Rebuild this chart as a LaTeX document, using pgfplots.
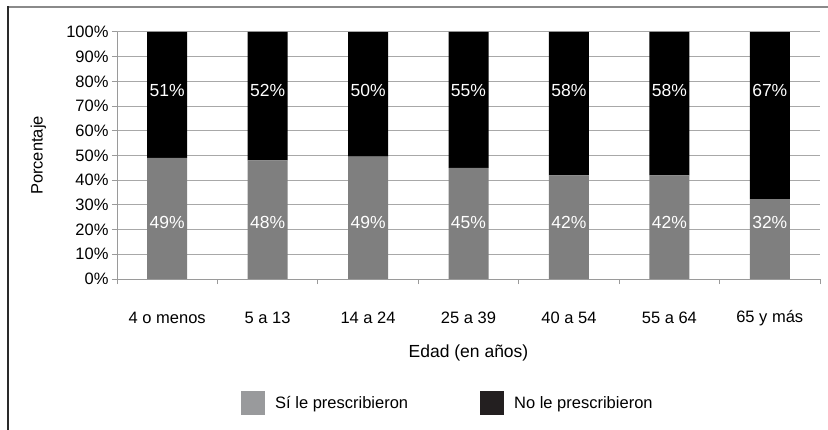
\documentclass[border=0pt]{standalone}
\usepackage{pgfplots}
\pgfplotsset{compat=1.18}
\usepackage{pgfplotstable}
\usepackage{fontspec}
\setmainfont{Liberation Sans}

% Share of people who were / were not prescribed, by age group (percent)
\pgfplotstableread{
idx si no
0 49 51
1 48 52
2 49 50
3 45 55
4 42 58
5 42 58
6 32 67
}\edad

\definecolor{barGray}{HTML}{7F7F7F}
\definecolor{legGray}{HTML}{999A9C}
\definecolor{legBlack}{HTML}{231F20}
\definecolor{gridGray}{HTML}{A8A8A8}
\definecolor{axisGray}{HTML}{9A9A9A}
\definecolor{frameTop}{HTML}{8A8A8A}
\definecolor{frameLeft}{HTML}{2A2A2A}

\begin{document}
\begin{tikzpicture}[font=\fontsize{16.5bp}{19bp}\selectfont]
\useasboundingbox (0,0) rectangle (828bp,430bp);
\draw[frameTop, line width=1.2bp] (8bp,423bp) -- (828bp,423bp);
\draw[frameLeft, line width=1.3bp] (8bp,0) -- (8bp,423.6bp);
\begin{axis}[
  at={(117bp,151bp)}, anchor=south west,
  scale only axis, width=703bp, height=247bp,
  ybar stacked, bar width=40bp,
  xmin=-0.5, xmax=6.5, ymin=0, ymax=100,
  axis x line*=bottom, axis y line*=left,
  axis line style={draw=axisGray, line width=1bp},
  ymajorgrids, grid style={draw=gridGray, line width=1bp},
  ytick={0,10,...,100},
  yticklabels={0\%,10\%,20\%,30\%,40\%,50\%,60\%,70\%,80\%,90\%,100\%},
  xtick={0,...,6},
  xticklabels={4 o menos,5 a 13,14 a 24,25 a 39,40 a 54,55 a 64,65 y más},
  minor xtick={-0.5,0.5,...,6.5},
  tick align=outside,
  major tick length=5bp, minor tick length=5bp,
  tick style={draw=axisGray, line width=1bp},
  major x tick style={draw=none},
  xticklabel style={anchor=center, yshift=-34bp},
  yticklabel style={anchor=east},
  /pgf/number format/assume math mode=true,
  ylabel={Porcentaje},
  ylabel style={at={(axis description cs:-0.112,0.5)}, anchor=center},
  xlabel={Edad (en años)},
  xlabel style={at={(axis description cs:0.5,-0.2996)}, anchor=center,
    font=\fontsize{17.5bp}{20bp}\selectfont},
  legend columns=2,
  legend style={at={(axis description cs:0.1764,-0.502)}, anchor=west,
    draw=none, fill=none, inner sep=0pt,
    /tikz/every odd column/.append style={column sep=8bp},
    /tikz/every even column/.append style={column sep=70bp}},
  nodes near coords={\pgfmathprintnumber{\pgfplotspointmeta}\%},
  every node near coord/.append style={text=white, anchor=center,
    font=\fontsize{17.5bp}{20bp}\selectfont},
]
% lower segment; label centred at 22.8 % of the axis height
\addplot[fill=barGray, draw=none,
  point meta=explicit,
  visualization depends on={100*\thisrow{si}/(\thisrow{si}+\thisrow{no}) \as \ytop},
  every node near coord/.append style={yshift={(22.8-0.5*\ytop)*2.47*1.00375}},
  legend image code/.code={\fill[legGray] (0bp,-12bp) rectangle (24bp,12bp);}]
  table[x=idx, y expr={100*\thisrow{si}/(\thisrow{si}+\thisrow{no})}, meta=si] {\edad};
% upper segment; label centred at 76.5 % of the axis height
\addplot[fill=black, draw=none,
  point meta=explicit,
  visualization depends on={100*\thisrow{si}/(\thisrow{si}+\thisrow{no}) \as \ylow},
  every node near coord/.append style={yshift={(76.5-0.5*(\ylow+100))*2.47*1.00375}},
  legend image code/.code={\fill[legBlack] (0bp,-12bp) rectangle (24bp,12bp);}]
  table[x=idx, y expr={100*\thisrow{no}/(\thisrow{si}+\thisrow{no})}, meta=no] {\edad};
\legend{Sí le prescribieron, No le prescribieron}
\end{axis}
\end{tikzpicture}
\end{document}
